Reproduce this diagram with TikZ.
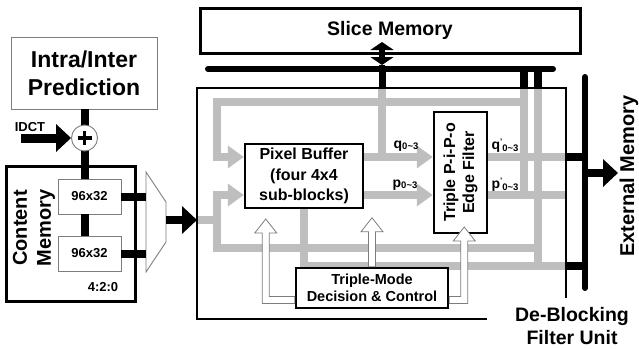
\documentclass[tikz,border=0pt]{standalone}
\usepackage{fontspec}
\setmainfont{Liberation Sans}
\usetikzlibrary{arrows.meta,calc,backgrounds}
\definecolor{busgray}{RGB}{190,190,190}
\definecolor{edgegray}{RGB}{125,125,125}
% index range 0~3 and prime mark for the p/q signal labels
\newcommand{\rng}{\raisebox{-1.5pt}{\fontsize{9.5}{9.5}\selectfont 0\textasciitilde3}}
\newcommand{\tick}{\raisebox{5pt}{\fontsize{8}{8}\selectfont'}}
\begin{document}
\begin{tikzpicture}[x=1pt,y=-1pt,
  blk/.style={draw=black, line width=2.5pt, fill=white, inner sep=0pt, align=center},
  thinblk/.style={draw=edgegray, line width=0.9pt, fill=white, inner sep=0pt, align=center},
  gbus/.style={draw=busgray, line width=8pt, line join=miter},
  garrow/.style={-{Triangle[width=22pt,length=16pt]}},
  bbus/.style={draw=black, line width=8pt},
  barrow/.style={-{Triangle[width=27pt,length=15pt]}},
  hollow/.style={draw=edgegray, line width=0.8pt, fill=white, line join=miter},
  lbl/.style={font=\bfseries\fontsize{14}{14}\selectfont, inner sep=0pt},
  txt/.style={inner sep=0pt, align=center},
]
\useasboundingbox (0,0) rectangle (639,348);

% ---------- reference levels ----------
\coordinate (ytop) at (0,102);
\coordinate (yq)   at (0,157);
\coordinate (yp)   at (0,195);
\coordinate (yin)  at (0,220);
\coordinate (ylow) at (0,248);
\coordinate (ybot) at (0,266);
\coordinate (xl) at (217,0);
\coordinate (xs) at (382,0);
\coordinate (xa) at (524,0);
\coordinate (xb) at (538,0);
\coordinate (xe) at (585,0);
\coordinate (xv) at (84.5,0);

% ---------- de-blocking unit frame ----------
\coordinate (dsw) at (197,319);
\coordinate (dnw) at (197,88);
\coordinate (dne) at (566,88);
\coordinate (dbe) at (487,319);
\coordinate (dre) at (566,298);
\draw[line width=2.5pt] (dbe) -- (dsw) -- (dnw) -- (dne) -- (dre);

% ---------- blocks ----------
\node[blk, line width=3pt, minimum width=380pt, minimum height=45pt,
      font=\bfseries\fontsize{19.5}{22}\selectfont] (slice) at (390,30.5) {Slice Memory};
\node[thinblk, minimum width=146pt, minimum height=72pt,
      font=\bfseries\fontsize{23}{28}\selectfont] (pred) at (84,73) {Intra/Inter\\Prediction};
\node[blk, line width=3pt, minimum width=129pt, minimum height=135pt] (cm) at (70.5,233.5) {};
\node[txt, rotate=90, font=\bfseries\fontsize{20}{24}\selectfont] (cmt) at (34,228) {Content\\Memory};
\node[thinblk, minimum width=63pt, minimum height=35pt,
      font=\bfseries\fontsize{13}{13}\selectfont] (m1) at (89.5,196.5) {96x32};
\node[thinblk, minimum width=63pt, minimum height=35pt,
      font=\bfseries\fontsize{13}{13}\selectfont] (m2) at (89.5,253.5) {96x32};
\node[txt, font=\bfseries\fontsize{13}{13}\selectfont] (fmt) at (103,287) {4:2:0};
\node[txt, font=\bfseries\fontsize{13}{13}\selectfont] (idct) at (30,127) {IDCT};

\node[blk, minimum width=118pt, minimum height=64pt,
      font=\bfseries\fontsize{16}{20.5}\selectfont] (pb) at (304,176) {Pixel Buffer\\(four 4x4\\sub-blocks)};
\node[blk, minimum width=53pt, minimum height=121pt] (ef) at (460.5,172.5) {};
\node[txt, rotate=90, font=\bfseries\fontsize{16}{19}\selectfont] (eft) at (ef.center) {Triple P-i-P-o\\Edge Filter};
\node[blk, minimum width=152pt, minimum height=40pt,
      font=\bfseries\fontsize{14.5}{17}\selectfont] (tm) at (372,288) {Triple-Mode\\Decision \& Control};

% ---------- multiplexer ----------
\coordinate (muxa) at (146,172);
\coordinate (muxb) at (166,202);
\coordinate (muxc) at (166,242);
\coordinate (muxd) at (146,272);
\coordinate (muxout) at (166,220);
\draw[draw=edgegray, line width=0.9pt, fill=white] (muxa) -- (muxb) -- (muxc) -- (muxd) -- cycle;

% ---------- gray internal buses ----------
\begin{scope}[on background layer]
  \draw[gbus, garrow] (xa |- ytop) -- (xl |- ytop) -- (xl |- yq) -- (pb.west |- yq);
  \draw[gbus, garrow] (xb |- ylow) -- (xl |- ylow) -- (xl |- yp) -- (pb.west |- yp);
  \draw[gbus] (dnw |- yin) -- (xl |- yin);
  \draw[gbus] (xs |- dnw) -- (xs |- yq);
  \draw[gbus, garrow] (pb.east |- yq) -- (ef.west |- yq);
  \draw[gbus, garrow] (pb.east |- yp) -- (ef.west |- yp);
  \draw[gbus] (pb.south) -- (pb.south |- ybot) -- (dne |- ybot);
  \draw[gbus] (ef.east |- yq) -- (dne |- yq);
  \draw[gbus] (ef.east |- yp) -- (dne |- yp);
  \draw[gbus] (xa |- dnw) -- (xa |- yp);
  \draw[gbus] (xb |- dnw) -- (xb |- ybot);
\end{scope}

% ---------- slice memory bus ----------
\coordinate (barl) at (208,69);
\coordinate (barr) at (553,69);
\draw[line width=6pt, line cap=round] (barl) -- (barr);
\draw[line width=7pt] (xs |- barl) -- (xs |- dnw);
\draw[line width=7.5pt] (xa |- barl) -- (xa |- dnw);
\draw[line width=7.5pt] (xb |- barl) -- (xb |- dnw);
\coordinate (sup) at (382,42);
\coordinate (sdn) at (382,65);
\draw[line width=6pt, {Triangle[width=23pt,length=8pt]}-{Triangle[width=23pt,length=8pt]}] (sup) -- (sdn);
\draw[line width=6pt] (sdn) -- (xs |- barl);

% ---------- external memory bus ----------
\coordinate (et) at (585,77);
\coordinate (eb) at (585,288);
\draw[line width=6pt, line cap=round] (et) -- (eb);
\draw[bbus] (dne |- yq) -- (xe |- yq);
\draw[bbus] (dne |- ybot) -- (xe |- ybot);
\coordinate (eout) at (618,173);
\draw[bbus, barrow] (xe |- eout) -- (eout);
\node[txt, rotate=90, font=\bfseries\fontsize{20}{20}\selectfont] (extm) at (629,176) {External Memory};
\node[txt, font=\bfseries\fontsize{19.5}{23}\selectfont] (dbf) at (572,326) {De-Blocking\\Filter Unit};

% ---------- left data path ----------
\draw[bbus] (pred.south -| xv) -- (m1.north -| xv);
\draw[bbus] (m1.south -| xv) -- (m2.north -| xv);
\node[circle, draw=edgegray, fill=white, line width=0.9pt, minimum size=26pt, inner sep=0pt] (add) at (84.5,138) {};
\draw[line width=3.5pt] ($(add)+(-7,0)$) -- ($(add)+(7,0)$);
\draw[line width=3.5pt] ($(add)+(0,-7)$) -- ($(add)+(0,7)$);
\coordinate (idin) at (21,138);
\draw[bbus, line width=9pt, barrow] (idin) -- (add.west);
\draw[bbus] (m1.east) -- (m1.east -| muxa);
\draw[bbus] (m2.east) -- (m2.east -| muxa);
\draw[bbus, barrow] (muxout) -- (dnw |- muxout);

% ---------- control arrows (hollow) ----------
\draw[hollow] ($(tm.west)+(0,8.5)$) -- ++(-25.5,0) -- ++(0,-63.5) -- ++(7.5,0) -- ++(-11,-14)
  -- ++(-11,14) -- ++(7.5,0) -- ++(0,70.5) -- ++(32.5,0) -- cycle;
\draw[hollow] ($(tm.north)+(-3.5,0)$) -- ++(0,-35) -- ++(-7.5,0) -- ++(11,-14)
  -- ++(11,14) -- ++(-7.5,0) -- ++(0,35) -- cycle;
\draw[hollow] ($(tm.east)+(0,8.5)$) -- ++(11.5,0) -- ++(0,-55.5) -- ++(-7.5,0) -- ++(11,-14)
  -- ++(11,14) -- ++(-7.5,0) -- ++(0,62.5) -- ++(-18.5,0) -- cycle;

% ---------- signal labels ----------
\node[lbl] (ql)  at (406,146) {q\rng};
\node[lbl] (pl)  at (405,185) {p\rng};
\node[lbl] (qol) at (505,146) {q\tick\rng};
\node[lbl] (pol) at (505,185) {p\tick\rng};
\end{tikzpicture}
\end{document}
